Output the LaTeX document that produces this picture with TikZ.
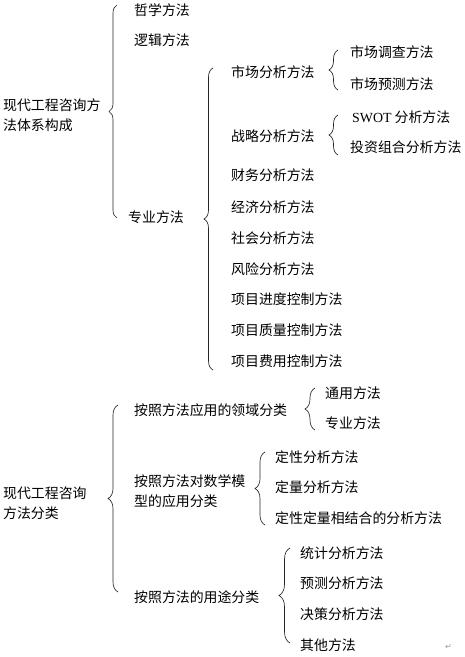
\documentclass[tikz,border=0pt]{standalone}
\usepackage{fontspec}
\setmainfont{Noto Sans CJK SC}
\newfontfamily\latinfont{Liberation Serif}
\newfontfamily\symfont{DejaVu Sans}
\usetikzlibrary{decorations.pathreplacing}
\begin{document}
\begin{tikzpicture}[x=1pt,y=-1pt,
  lbl/.style={anchor=west, inner sep=0pt, font=\fontsize{13.9}{20}\selectfont, align=left},
  brc/.style={draw=black!85, line width=0.65pt, decorate, decoration={brace, amplitude=#1}},
]
\useasboundingbox (0,0) rectangle (464,657);
% ---------- top tree ----------
\node[lbl] (root1) at (3,115) {现代工程咨询方\\法体系构成};
\node[lbl] (zx) at (134,10) {哲学方法};
\node[lbl] (lj) at (134,40) {逻辑方法};
\node[lbl] (zy) at (128,217) {专业方法};
\node[lbl] (sc) at (231,72) {市场分析方法};
\node[lbl] (zl) at (231,136) {战略分析方法};
\node[lbl] (cw) at (231,175) {财务分析方法};
\node[lbl] (jj) at (231,207) {经济分析方法};
\node[lbl] (sh) at (231,238) {社会分析方法};
\node[lbl] (fx) at (231,269) {风险分析方法};
\node[lbl] (jd) at (231,299) {项目进度控制方法};
\node[lbl] (zl2) at (231,330) {项目质量控制方法};
\node[lbl] (fy) at (231,361) {项目费用控制方法};
\node[lbl] (scdc) at (350,52) {市场调查方法};
\node[lbl] (scyc) at (350,84) {市场预测方法};
\node[lbl] (swot) at (352,117) {{\latinfont SWOT} 分析方法};
\node[lbl] (tz) at (350,147) {投资组合分析方法};
\draw[brc=8pt] (117,218) -- (117,5);
\draw[brc=9pt] (213,370) -- (213,68);
\draw[brc=9pt] (338,90) -- (338,50);
\draw[brc=9pt] (338,155) -- (338,115);
% ---------- bottom tree ----------
\node[lbl] (root2) at (3,503) {现代工程咨询\\方法分类};
\node[lbl] (ly) at (134,410) {按照方法应用的领域分类};
\node[lbl] (sx) at (134,491) {按照方法对数学模\\型的应用分类};
\node[lbl] (yt) at (134,597) {按照方法的用途分类};
\node[lbl] (ty) at (325,393) {通用方法};
\node[lbl] (zy2) at (325,423) {专业方法};
\node[lbl] (dx) at (275,457) {定性分析方法};
\node[lbl] (dl) at (275,487) {定量分析方法};
\node[lbl] (dxdl) at (275,518) {定性定量相结合的分析方法};
\node[lbl] (tj) at (300,553) {统计分析方法};
\node[lbl] (yc) at (300,583) {预测分析方法};
\node[lbl] (jc) at (300,614) {决策分析方法};
\node[lbl] (qt) at (300,645) {其他方法};
\node[anchor=west, inner sep=0pt, font=\symfont\fontsize{8}{8}\selectfont, text=black!40] (ret) at (445,647) {↵};
\draw[brc=10pt] (118,592) -- (118,405);
\draw[brc=10pt] (315,430) -- (315,388);
\draw[brc=10pt] (265,525) -- (265,452);
\draw[brc=11pt] (290,643) -- (290,548);
\end{tikzpicture}
\end{document}
